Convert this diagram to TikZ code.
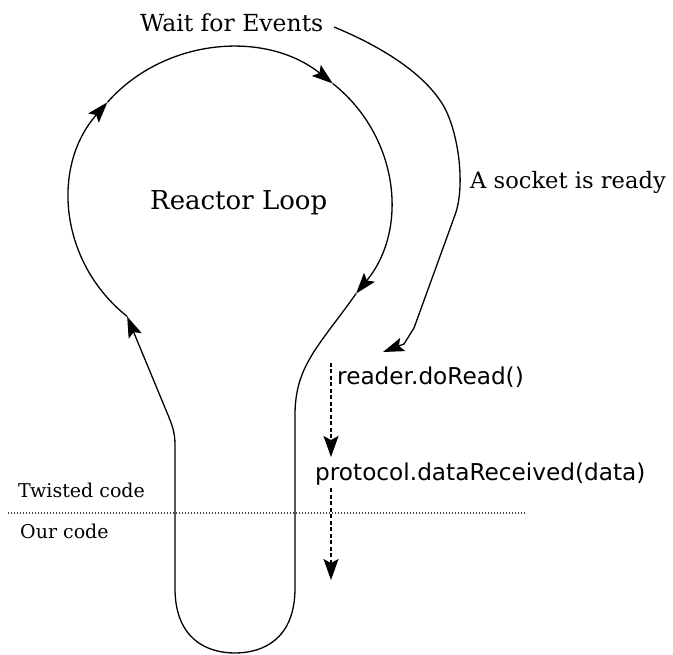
\documentclass[tikz,border=0pt]{standalone}
\usepackage{fontspec}
\setmainfont{DejaVu Serif}
\newfontfamily\codefont{DejaVu Sans}
\usetikzlibrary{arrows.meta}
\begin{document}
\begin{tikzpicture}[x=1pt,y=-1pt,
  tipA/.style={-{Stealth[length=21pt,width=14pt,inset=4pt]}},
  flow/.style={line width=1.3pt,line join=round,tipA},
  call/.style={line width=1.1pt,dash pattern=on 4pt off 2.5pt,-{Stealth[length=21pt,width=15pt,inset=4pt]}},
  divider/.style={line width=1.3pt,dash pattern=on 1.3pt off 1.7pt,black!75},
  lbl/.style={inner sep=0pt,anchor=base west,font=\fontsize{23.5pt}{26pt}\selectfont},
  biglbl/.style={inner sep=0pt,anchor=base west,font=\fontsize{26pt}{30pt}\selectfont},
  smalllbl/.style={inner sep=0pt,anchor=base west,font=\fontsize{19pt}{22pt}\selectfont},
  codelbl/.style={inner sep=0pt,anchor=base west,font=\codefont\fontsize{23.2pt}{26pt}\selectfont}]
\useasboundingbox (0,0) rectangle (673,655);
\clip (0,0) rectangle (673,655);
\fill[white] (0,0) rectangle (673,655);

% labels
\node[lbl] (wfe) at (140,32) {Wait for Events};
\node[biglbl] (loop) at (150,210) {Reactor Loop};
\node[lbl,font=\fontsize{22.6pt}{26pt}\selectfont] (sock) at (470,189) {A socket is ready};
\node[codelbl] (read) at (337,385) {reader.doRead()};
\node[codelbl] (proto) at (315,481) {protocol.dataReceived(data)};
\node[smalllbl] (tw) at (18,497) {Twisted code};
\node[smalllbl] (our) at (20,538) {Our code};

% ellipse points
\coordinate (C) at (230,200);
\path (C) ++(-130:160pt and 152pt) coordinate (e130);
\path (C) ++(-220:160pt and 152pt) coordinate (e220);
\path (C) ++(-310:160pt and 152pt) coordinate (e310);
\path (C) ++(-398:160pt and 152pt) coordinate (e38);

% reactor loop
\draw[flow] (e130) arc[start angle=-130,end angle=-220,x radius=160pt,y radius=152pt];
\draw[flow] (e220) arc[start angle=-220,end angle=-310,x radius=160pt,y radius=152pt];
\draw[flow] (e310) arc[start angle=-310,end angle=-398,x radius=160pt,y radius=152pt];
\draw[flow] (e38) .. controls (320,345) and (295,365) .. (295,415) -- (295,588)
  .. controls (295,640) and (262,653) .. (235,653)
  .. controls (208,653) and (175,640) .. (175,588) -- (175,445)
  .. controls (175,432) and (172,425) .. (168,415) -- (e130);

% socket ready
\coordinate (sk0) at (334,27);
\coordinate (sk1) at (383,352);
\draw[flow] (sk0) .. controls (385,48) and (425,75) .. (443,105)
  .. controls (458,130) and (466,185) .. (455,215) -- (414,328) -- (404,344) -- (sk1);

% calls
\coordinate (d1a) at (331,363);
\coordinate (d1b) at (331,457);
\coordinate (d2a) at (331,488);
\coordinate (d2b) at (331,580);
\draw[call] (d1a) -- (d1b);
\draw[call] (d2a) -- (d2b);

% divider
\coordinate (dv0) at (8,513);
\coordinate (dv1) at (526,513);
\draw[divider] (dv0) -- (dv1);
\end{tikzpicture}
\end{document}
